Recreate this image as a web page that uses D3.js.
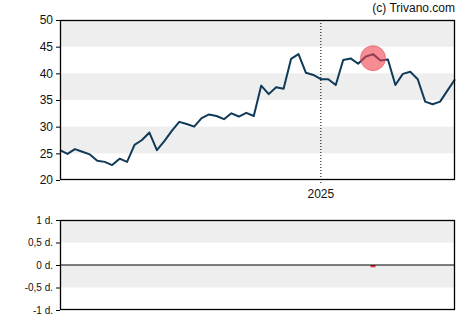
<!DOCTYPE html>
<html>
<head>
<meta charset="utf-8">
<script src="https://cdn.jsdelivr.net/npm/d3@7"></script>
<style>
  html, body { margin: 0; padding: 0; background: #fff; }
  svg { display: block; font-family: "Liberation Sans", Arial, sans-serif; }
</style>
</head>
<body>
<svg id="chart" width="470" height="325"></svg>
<script>
// Weekly closing prices (index = week number)
const prices = [
  25.6, 24.9, 25.8, 25.3, 24.8, 23.6, 23.4, 22.8, 24.0, 23.4,
  26.6, 27.5, 28.9, 25.6, 27.3, 29.2, 30.9, 30.5, 30.0, 31.6,
  32.3, 32.0, 31.4, 32.5, 31.9, 32.6, 32.0, 37.7, 36.1, 37.4,
  37.1, 42.7, 43.6, 40.1, 39.7, 38.9, 38.9, 37.8, 42.5, 42.8,
  41.8, 43.1, 43.6, 42.4, 42.6, 37.8, 39.9, 40.3, 38.9, 34.7,
  34.2, 34.7, 36.8, 38.9
];

// Year boundary marker
const yearTicks = [{ label: "2025", week: 35 }];

// Price axis ticks
const priceTicks = [20, 25, 30, 35, 40, 45, 50];

// Highlighted signal: week and signal price
const signals = [{ week: 42, price: 42.85 }];

// Lower panel: day offsets per signal
const signalDays = [{ week: 42, value: -0.05 }];
const dayTicks = [1, 0.5, 0, -0.5, -1];
const dayTickLabels = ["1 d.", "0,5 d.", "0 d.", "-0,5 d.", "-1 d."];

const svg = d3.select("#chart");

const left = 60, right = 455;
const main = { top: 20, bottom: 180 };
const lower = { top: 220, bottom: 310 };

const x = d3.scaleLinear().domain([0, prices.length - 1]).range([left, right]);
const y = d3.scaleLinear().domain([20, 50]).range([main.bottom, main.top]);
const yd = d3.scaleLinear().domain([-1, 1]).range([lower.bottom, lower.top]);

const bandColor = "#eeeeee";

// Alternating bands in the price panel
[[45, 50], [35, 40], [25, 30]].forEach(([a, b]) => {
  svg.append("rect")
    .attr("x", left).attr("width", right - left)
    .attr("y", y(b)).attr("height", y(a) - y(b))
    .attr("fill", bandColor);
});

// Bands in the lower panel
[[0.5, 1], [-0.5, 0]].forEach(([a, b]) => {
  svg.append("rect")
    .attr("x", left).attr("width", right - left)
    .attr("y", yd(b)).attr("height", yd(a) - yd(b))
    .attr("fill", bandColor);
});

// Year divider
yearTicks.forEach(t => {
  svg.append("line")
    .attr("x1", x(t.week)).attr("x2", x(t.week))
    .attr("y1", main.top).attr("y2", main.bottom + 5)
    .attr("stroke", "#000").attr("stroke-width", 1)
    .attr("stroke-dasharray", "1,2");
  svg.append("text")
    .attr("x", x(t.week)).attr("y", main.bottom + 18)
    .attr("text-anchor", "middle")
    .attr("font-size", 12).attr("fill", "#111")
    .text(t.label);
});

// Price line
const line = d3.line().x((d, i) => x(i)).y(d => y(d));
svg.append("path")
  .datum(prices)
  .attr("d", line)
  .attr("fill", "none")
  .attr("stroke", "#0f3a58")
  .attr("stroke-width", 2)
  .attr("stroke-linejoin", "round");

// Signal marker
signals.forEach(s => {
  svg.append("circle")
    .attr("cx", x(s.week)).attr("cy", y(s.price))
    .attr("r", 12.5)
    .attr("fill", "#f0404c").attr("fill-opacity", 0.6)
    .attr("stroke", "#e8505a").attr("stroke-opacity", 0.6);
});

// Price axis
const yAxis = d3.axisLeft(y).tickValues(priceTicks).tickSize(4).tickPadding(3);
const gy = svg.append("g").attr("transform", `translate(${left},0)`).call(yAxis);
gy.select(".domain").remove();
gy.selectAll("text").attr("font-size", 12).attr("fill", "#111").attr("font-family", "Liberation Sans, Arial, sans-serif");
gy.selectAll("line").attr("stroke", "#000");

// Price panel frame
svg.append("rect")
  .attr("x", left + 0.5).attr("y", main.top + 0.5)
  .attr("width", right - left - 1).attr("height", main.bottom - main.top - 1)
  .attr("fill", "none").attr("stroke", "#000").attr("stroke-width", 1.3);

// Lower panel bars
svg.selectAll("rect.sig")
  .data(signalDays)
  .enter().append("rect")
  .attr("class", "sig")
  .attr("x", d => x(d.week) - 2.5).attr("width", 5)
  .attr("y", d => Math.min(yd(0), yd(d.value)))
  .attr("height", d => Math.abs(yd(d.value) - yd(0)))
  .attr("fill", "#e0303c");

// Zero line
svg.append("line")
  .attr("x1", left).attr("x2", right)
  .attr("y1", yd(0)).attr("y2", yd(0))
  .attr("stroke", "#000").attr("stroke-width", 1);

// Lower axis
const ydAxis = d3.axisLeft(yd).tickValues(dayTicks)
  .tickFormat((d, i) => dayTickLabels[i]).tickSize(4).tickPadding(3);
const gd = svg.append("g").attr("transform", `translate(${left},0)`).call(ydAxis);
gd.select(".domain").remove();
gd.selectAll("text").attr("font-size", 10).attr("fill", "#111").attr("font-family", "Liberation Sans, Arial, sans-serif");
gd.selectAll("line").attr("stroke", "#000");

// Lower panel frame
svg.append("rect")
  .attr("x", left + 0.5).attr("y", lower.top + 0.5)
  .attr("width", right - left - 1).attr("height", lower.bottom - lower.top - 1)
  .attr("fill", "none").attr("stroke", "#000").attr("stroke-width", 1.3);

// Credit
svg.append("text")
  .attr("x", right).attr("y", 12)
  .attr("text-anchor", "end")
  .attr("font-size", 12).attr("fill", "#111")
  .text("(c) Trivano.com");
</script>
</body>
</html>
